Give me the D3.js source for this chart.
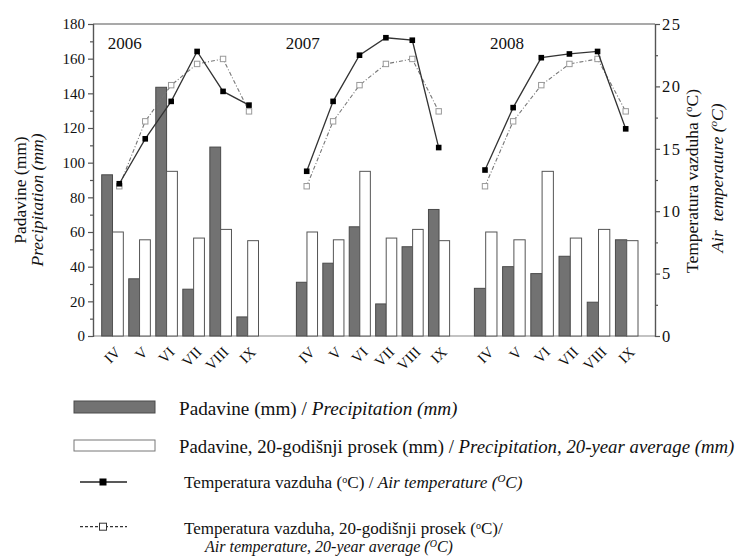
<!DOCTYPE html>
<html>
<head>
<meta charset="utf-8">
<script src="https://cdn.jsdelivr.net/npm/d3@7"></script>
<style>
  body { margin: 0; background: #fff; }
  text { font-family: "Liberation Serif", "Times New Roman", serif; fill: #111; }
</style>
</head>
<body>
<div id="chart"></div>
<script>
// Precipitation and air temperature, April - September, 2006-2008
const years = ["2006", "2007", "2008"];
const months = ["IV", "V", "VI", "VII", "VIII", "IX"];

// precipitation (mm)
const precip2006 = [93, 33, 143.5, 27, 109, 11];
const precip2007 = [31, 42, 63, 18.5, 51.5, 73];
const precip2008 = [27.5, 40, 36, 46, 19.5, 55.5];
const precipAvg = [60, 55.5, 95, 56.5, 61.5, 55];

// air temperature (C)
const temp2006 = [12.2, 15.8, 18.8, 22.8, 19.6, 18.5];
const temp2007 = [13.2, 18.8, 22.5, 23.9, 23.7, 15.1];
const temp2008 = [13.3, 18.3, 22.3, 22.6, 22.8, 16.6];
const tempAvg = [12.0, 17.2, 20.1, 21.8, 22.2, 18.0];

const precipTicks = [0, 20, 40, 60, 80, 100, 120, 140, 160, 180];
const tempTicks = [0, 5, 10, 15, 20, 25];

const precipByYear = [precip2006, precip2007, precip2008];
const tempByYear = [temp2006, temp2007, temp2008];

const w = 735;
const h = 556;
const plotLeft = 93;
const plotRight = 655;
const plotTop = 24;
const plotBottom = 336;

// each year is its own little panel inside the frame
const barRanges = [[101.7, 258.5], [296.4, 449.6], [474.4, 638]];
const lineRanges = [[119.3, 249], [306.7, 438.7], [485, 625.7]];
const yearLabelX = [107.7, 285.7, 490];

const darkFill = "#727272";
const darkStroke = "#4a4a4a";
const axisColor = "#555";

const svg = d3
  .select("#chart")
  .append("svg")
  .attr("width", w)
  .attr("height", h);

const yScale = d3.scaleLinear().domain([0, 180]).range([plotBottom, plotTop]);
const tScale = d3.scaleLinear().domain([0, 25]).range([plotBottom, plotTop]);

// frame: top border and baseline
svg
  .append("line")
  .attr("x1", plotLeft)
  .attr("x2", plotRight)
  .attr("y1", plotTop)
  .attr("y2", plotTop)
  .attr("stroke", axisColor)
  .attr("stroke-width", 1.2);

svg
  .append("line")
  .attr("x1", plotLeft)
  .attr("x2", plotRight)
  .attr("y1", plotBottom)
  .attr("y2", plotBottom)
  .attr("stroke", "#888")
  .attr("stroke-width", 1.2);

// left axis, major + minor ticks
const yAxis = d3.axisLeft(yScale).tickValues(precipTicks).tickSize(5).tickPadding(3);
const yMinor = d3
  .axisLeft(yScale)
  .tickValues(d3.range(10, 180, 20))
  .tickSize(3)
  .tickFormat("");

svg.append("g").attr("transform", `translate(${plotLeft},0)`).call(yAxis);
svg.append("g").attr("transform", `translate(${plotLeft},0)`).call(yMinor);

const tAxis = d3.axisRight(tScale).tickValues(tempTicks).tickSize(5).tickPadding(2);
const tMinor = d3
  .axisRight(tScale)
  .tickValues(d3.range(2.5, 25, 5))
  .tickSize(3)
  .tickFormat("");

const gt = svg.append("g").attr("transform", `translate(${plotRight},0)`).call(tAxis);
svg.append("g").attr("transform", `translate(${plotRight},0)`).call(tMinor);

svg.selectAll(".domain, .tick line").attr("stroke", axisColor).attr("stroke-width", 1.2);
svg
  .selectAll(".tick text")
  .style("font-family", '"Liberation Serif", serif')
  .style("font-size", "15px")
  .attr("fill", "#111");
// right labels are a bit wider in the original
gt.selectAll(".tick text").style("font-size", "16.5px").style("letter-spacing", "1.5px");

// draw one panel per year
years.forEach((year, yi) => {
  const band = d3.scaleBand().domain(months).range(barRanges[yi]).paddingInner(0.2).paddingOuter(0);
  const half = band.bandwidth() / 2;
  const pt = d3.scalePoint().domain(months).range(lineRanges[yi]);

  const g = svg.append("g").attr("class", "panel-" + year);

  // dark bars - actual precipitation
  g.selectAll(".bar-act")
    .data(precipByYear[yi])
    .enter()
    .append("rect")
    .attr("class", "bar-act")
    .attr("x", (d, i) => band(months[i]))
    .attr("y", (d) => yScale(d))
    .attr("width", half)
    .attr("height", (d) => yScale(0) - yScale(d))
    .attr("fill", darkFill)
    .attr("stroke", darkStroke)
    .attr("stroke-width", 1);

  // white bars - 20-year average
  g.selectAll(".bar-avg")
    .data(precipAvg)
    .enter()
    .append("rect")
    .attr("class", "bar-avg")
    .attr("x", (d, i) => band(months[i]) + half)
    .attr("y", (d) => yScale(d))
    .attr("width", half)
    .attr("height", (d) => yScale(0) - yScale(d))
    .attr("fill", "#fff")
    .attr("stroke", "#555")
    .attr("stroke-width", 1);

  // month labels, rotated
  g.selectAll(".month")
    .data(months)
    .enter()
    .append("text")
    .attr("class", "month")
    .attr("transform", (d) => `translate(${band(d) + half + 9},${plotBottom + 17}) rotate(-45)`)
    .attr("text-anchor", "end")
    .style("font-size", "15px")
    .text((d) => d);

  // temperature lines
  const line = d3
    .line()
    .x((d, i) => pt(months[i]))
    .y((d) => tScale(d));

  g.append("path")
    .datum(tempAvg)
    .attr("d", line)
    .attr("fill", "none")
    .attr("stroke", "#777")
    .attr("stroke-width", 1.1)
    .attr("stroke-dasharray", "4,2,1,2");

  g.selectAll(".pt-avg")
    .data(tempAvg)
    .enter()
    .append("rect")
    .attr("x", (d, i) => pt(months[i]) - 2.7)
    .attr("y", (d) => tScale(d) - 2.7)
    .attr("width", 5.4)
    .attr("height", 5.4)
    .attr("fill", "#fff")
    .attr("stroke", "#999")
    .attr("stroke-width", 1);

  g.append("path")
    .datum(tempByYear[yi])
    .attr("d", line)
    .attr("fill", "none")
    .attr("stroke", "#333")
    .attr("stroke-width", 1.3);

  g.selectAll(".pt-act")
    .data(tempByYear[yi])
    .enter()
    .append("rect")
    .attr("x", (d, i) => pt(months[i]) - 2.8)
    .attr("y", (d) => tScale(d) - 2.8)
    .attr("width", 5.6)
    .attr("height", 5.6)
    .attr("fill", "#000");

  g.append("text")
    .attr("x", yearLabelX[yi])
    .attr("y", 49)
    .style("font-size", "17px")
    .text(year);
});

// axis titles
const leftTitle = svg.append("g").style("font-size", "17.5px");
leftTitle
  .append("text")
  .attr("transform", "translate(26,190) rotate(-90)")
  .attr("text-anchor", "middle")
  .text("Padavine (mm)");
leftTitle
  .append("text")
  .attr("transform", "translate(43,200) rotate(-90)")
  .attr("text-anchor", "middle")
  .style("font-style", "italic")
  .text("Precipitation (mm)");

const rightTitle = svg.append("g").style("font-size", "17.5px");
const rt1 = rightTitle
  .append("text")
  .attr("transform", "translate(698,181) rotate(-90)")
  .attr("text-anchor", "middle");
rt1.append("tspan").text("Temperatura vazduha (");
rt1.append("tspan").attr("baseline-shift", "super").style("font-size", "11px").text("o");
rt1.append("tspan").text("C)");

const rt2 = rightTitle
  .append("text")
  .attr("transform", "translate(723,178) rotate(-90)")
  .attr("text-anchor", "middle")
  .style("font-style", "italic")
  .style("white-space", "pre");
rt2.append("tspan").text("Air  temperature (");
rt2.append("tspan").attr("baseline-shift", "super").style("font-size", "11px").text("o");
rt2.append("tspan").text("C)");

// legend
const legend = svg.append("g");

legend
  .append("rect")
  .attr("x", 74)
  .attr("y", 401)
  .attr("width", 81)
  .attr("height", 12)
  .attr("fill", darkFill)
  .attr("stroke", darkStroke);

const l1 = legend.append("text").attr("x", 179).attr("y", 414.5).style("font-size", "19.2px");
l1.append("tspan").text("Padavine (mm) / ");
l1.append("tspan").style("font-style", "italic").text("Precipitation (mm)");

legend
  .append("rect")
  .attr("x", 74)
  .attr("y", 440)
  .attr("width", 81)
  .attr("height", 11)
  .attr("fill", "#fff")
  .attr("stroke", "#777");

const l2 = legend.append("text").attr("x", 179).attr("y", 453).style("font-size", "18.8px");
l2.append("tspan").text("Padavine, 20-godišnji prosek (mm) / ");
l2.append("tspan").style("font-style", "italic").text("Precipitation, 20-year average (mm)");

legend
  .append("line")
  .attr("x1", 80)
  .attr("x2", 127)
  .attr("y1", 482)
  .attr("y2", 482)
  .attr("stroke", "#222")
  .attr("stroke-width", 1.5);
legend
  .append("rect")
  .attr("x", 99.5)
  .attr("y", 478.5)
  .attr("width", 7)
  .attr("height", 7)
  .attr("fill", "#000");

const l3 = legend.append("text").attr("x", 184).attr("y", 488).style("font-size", "17.2px");
l3.append("tspan").text("Temperatura vazduha (");
l3.append("tspan").attr("baseline-shift", "super").style("font-size", "10px").text("o");
l3.append("tspan").text("C) / ");
l3.append("tspan").style("font-style", "italic").text("Air temperature (");
l3.append("tspan").style("font-style", "italic").attr("baseline-shift", "super").style("font-size", "11px").text("O");
l3.append("tspan").style("font-style", "italic").text("C)");

legend
  .append("line")
  .attr("x1", 80)
  .attr("x2", 127)
  .attr("y1", 526.7)
  .attr("y2", 526.7)
  .attr("stroke", "#333")
  .attr("stroke-width", 1.2)
  .attr("stroke-dasharray", "3,2");
legend
  .append("rect")
  .attr("x", 99.5)
  .attr("y", 523.2)
  .attr("width", 7)
  .attr("height", 7)
  .attr("fill", "#fff")
  .attr("stroke", "#333");

const l4 = legend.append("text").attr("x", 184).attr("y", 533.5).style("font-size", "17px");
l4.append("tspan").text("Temperatura vazduha, 20-godišnji prosek (");
l4.append("tspan").attr("baseline-shift", "super").style("font-size", "10px").text("o");
l4.append("tspan").text("C)/");

const l5 = legend
  .append("text")
  .attr("x", 205)
  .attr("y", 552)
  .style("font-size", "16px")
  .style("font-style", "italic");
l5.append("tspan").text("Air temperature, 20-year average (");
l5.append("tspan").attr("baseline-shift", "super").style("font-size", "10px").text("O");
l5.append("tspan").text("C)");
</script>
</body>
</html>
